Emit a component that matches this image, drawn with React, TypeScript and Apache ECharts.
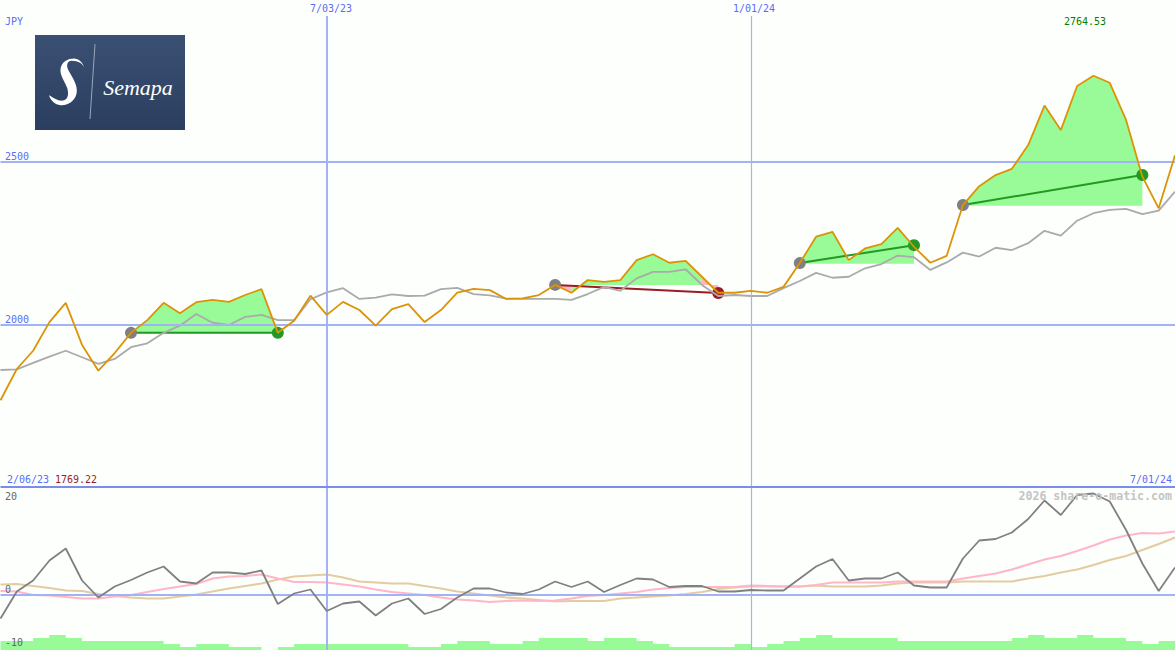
import React, { useEffect, useRef } from "react";
import * as echarts from "echarts";

const weeks = [
  "2/13/23","2/20/23","2/27/23","3/06/23","3/13/23","3/20/23","3/27/23","4/03/23","4/10/23","4/17/23","4/24/23",
  "5/01/23","5/08/23","5/15/23","5/22/23","5/29/23","6/05/23","6/12/23","6/19/23","6/26/23","7/03/23","7/10/23",
  "7/17/23","7/24/23","7/31/23","8/07/23","8/14/23","8/21/23","8/28/23","9/04/23","9/11/23","9/18/23","9/25/23",
  "10/02/23","10/09/23","10/16/23","10/23/23","10/30/23","11/06/23","11/13/23","11/20/23","11/27/23","12/04/23",
  "12/11/23","12/18/23","12/25/23","1/01/24","1/08/24","1/15/24","1/22/24","1/29/24","2/05/24","2/12/24","2/19/24",
  "2/26/24","3/04/24","3/11/24","3/18/24","3/25/24","4/01/24","4/08/24","4/15/24","4/22/24","4/29/24","5/06/24",
  "5/13/24","5/20/24","5/27/24","6/03/24","6/10/24","6/17/24","6/24/24","7/01/24",
];

const price = [
  1769.22,1865,1921,2009,2068,1939,1860,1914,1976,2015,2068,2036,2070,2077,2071,2092,2110,1976,2013,2090,2031,2071,2046,1998,2049,
  2064,2009,2046,2099,2111,2107,2080,2082,2092,2123,2099,2138,2132,2138,2199,2217,2191,2197,2148,2099,2099,2105,2099,2117,2190,
  2271,2286,2199,2235,2248,2298,2240,2191,2212,2368,2426,2460,2479,2552,2673,2598,2733,2764.53,2743,2629,2455,2358,2521,
];
const priceAverage = [
  1862,1864,1884,1903,1921,1901,1881,1896,1932,1944,1976,1998,2034,2007,2000,2025,2031,2015,2015,2079,2100,2113,2080,2084,2094,
  2089,2090,2110,2114,2095,2091,2081,2080,2080,2080,2077,2095,2117,2105,2143,2163,2163,2171,2123,2089,2092,2089,2089,2113,2135,
  2160,2145,2148,2174,2187,2213,2208,2169,2192,2222,2210,2237,2230,2251,2289,2274,2320,2343,2353,2356,2340,2351,2409,
];
const momentum = [
  -4.7,0.7,2.9,6.9,9.3,2.9,-0.5,1.7,3.0,4.5,5.7,2.7,2.3,4.5,4.5,4.2,4.9,-1.8,0.3,1.1,-3.2,-1.7,-1.3,-4.1,-1.7,
  -0.7,-3.8,-2.8,-0.5,1.3,1.3,0.5,0.2,1.1,2.7,1.6,2.7,0.6,2.0,3.3,3.1,1.6,1.8,1.8,0.7,0.7,1.0,0.9,0.9,3.3,
  5.7,7.2,2.9,3.3,3.3,4.5,1.9,1.5,1.5,7.3,10.9,11.2,12.5,15.2,18.9,16.0,20.0,20.3,18.7,13.0,6.3,0.8,5.5,
];
const momentumFast = [
  0.8,0.7,0,-0.1,-0.4,-0.7,-0.7,-0.3,0,0.6,1.2,1.7,2.2,3.3,3.7,3.8,4.1,3.3,2.6,2.6,2.5,2.1,1.7,1.1,0.6,
  0.3,0,-0.5,-0.9,-1.1,-1.4,-1.2,-1.1,-1.2,-1.1,-0.7,-0.2,0,0.3,0.6,1.1,1.4,1.6,1.6,1.6,1.6,1.9,1.8,1.7,1.7,
  2.0,2.5,2.5,2.5,2.5,2.7,2.7,2.7,2.7,3.3,3.8,4.3,5.1,6.1,7.1,7.8,8.8,9.9,11.1,11.9,12.4,12.3,12.7,
];
const momentumSlow = [
  2.1,2.2,1.8,1.4,0.9,0.8,0.2,-0.2,-0.5,-0.7,-0.7,-0.3,0.1,0.7,1.3,1.8,2.3,3.1,3.7,3.9,4.1,3.5,2.7,2.5,2.3,
  2.3,1.8,1.3,0.7,0.3,-0.1,-0.5,-0.7,-1.0,-1.3,-1.2,-1.2,-1.2,-0.7,-0.5,-0.3,-0.1,0.2,0.6,1.2,1.5,1.7,1.7,1.7,1.7,
  1.9,1.7,1.7,1.7,1.9,2.3,2.5,2.5,2.5,2.7,2.7,2.7,2.7,3.3,3.8,4.5,5.1,6.0,7.0,7.8,9.0,10.2,11.5,
];
const volumeLevel = [
  3,3,4,5,4,3,3,3,3,3,2,1,2,2,1,1,0,1,2,2,2,2,2,2,2,
  1,1,2,3,3,2,2,3,4,4,4,3,4,4,3,2,1,1,1,1,2,1,2,3,4,
  5,4,4,4,4,3,3,3,3,3,3,3,4,5,4,4,5,4,4,3,2,3,3,
];

const trades = [
  { from: 8, to: 17, entry: 1976, exit: 1976, won: true },
  { from: 34, to: 44, entry: 2123, exit: 2098, won: false },
  { from: 49, to: 56, entry: 2190, exit: 2245, won: true },
  { from: 59, to: 70, entry: 2368, exit: 2460, won: true },
];

const gridPrices = [2000, 2500];
const markedWeeks = ["7/03/23", "1/01/24"];
const BLUE = "#5b6cf8";
const GRIDLINE = "#a3b1f5";
const GREEN = "#98fb98";
const PINK = "#ffb6c1";
const ORANGE = "#dd9306";
const mono = "'DejaVu Sans Mono', monospace";

const LOGO_S =
  "M165 118C160 100 145 92 125 92C112 92 108 105 115 120C125 140 145 165 140 190C135 215 110 228 92 226C75 224 62 212 57 196C70 203 85 215 100 212C112 210 118 195 112 175C105 155 88 135 92 115C96 95 115 85 135 86C150 87 160 100 165 118Z";
echarts.graphic.registerShape("logoS", echarts.graphic.extendPath(LOGO_S, {}));

function label(text: string, x: number, y: number, fill: string, align = "left") {
  return {
    type: "text",
    x,
    y,
    z: 20,
    style: { text, fill, font: `10px ${mono}`, textAlign: align, textVerticalAlign: "middle" },
  };
}

function range(from: number, to: number) {
  return price.map((v, i) => (i >= from && i <= to ? v : null));
}

function area(from: number, to: number, origin: number, color: string) {
  return {
    type: "line",
    xAxisIndex: 0,
    yAxisIndex: 0,
    z: 2,
    data: range(from, to),
    showSymbol: false,
    lineStyle: { width: 0 },
    areaStyle: { color, opacity: 1, origin },
    silent: true,
  };
}

export default function App() {
  const ref = useRef<HTMLDivElement>(null);
  useEffect(() => {
    const chart = echarts.init(ref.current!, null, { renderer: "svg" });
    const plainLine = (x: number, y: number, data: number[], color: string, width: number, z: number) => ({
      type: "line",
      xAxisIndex: x,
      yAxisIndex: y,
      z,
      data,
      showSymbol: false,
      lineStyle: { color, width },
      itemStyle: { color },
      silent: true,
    });
    const verticals = markedWeeks.map((w, i) => ({
      xAxis: w,
      lineStyle: i === 0 ? { color: GRIDLINE, width: 2 } : { color: "#aab4dc", width: 1.2 },
    }));
    chart.setOption({
      animation: false,
      backgroundColor: "#fdfffd",
      grid: [
        { left: 0.5, top: 16, width: 1175, height: 471 },
        { left: 0.5, top: 487, width: 1175, height: 163 },
      ],
      xAxis: [
        { type: "category", gridIndex: 0, data: weeks, boundaryGap: false, show: false },
        { type: "category", gridIndex: 1, data: weeks, boundaryGap: false, show: false },
      ],
      yAxis: [
        { type: "value", gridIndex: 0, min: 1503.1, max: 2947.9, show: false },
        { type: "value", gridIndex: 1, min: -11, max: 21.6, show: false },
        { type: "value", gridIndex: 1, min: 0, max: 54.33, show: false },
      ],
      series: [
        {
          type: "line",
          xAxisIndex: 0,
          yAxisIndex: 0,
          z: 1,
          data: [],
          silent: true,
          markLine: {
            silent: true,
            symbol: "none",
            animation: false,
            label: { show: false },
            data: [
              ...verticals,
              ...gridPrices.map((p) => ({ yAxis: p, lineStyle: { color: GRIDLINE, width: 2, type: "solid" } })),
            ],
            lineStyle: { type: "solid" },
          },
        },
        {
          type: "line",
          xAxisIndex: 1,
          yAxisIndex: 1,
          z: 1,
          data: [],
          silent: true,
          markLine: {
            silent: true,
            symbol: "none",
            animation: false,
            label: { show: false },
            lineStyle: { type: "solid" },
            data: [
              ...verticals,
              { yAxis: 0, lineStyle: { color: GRIDLINE, width: 2, type: "solid" } },
              { yAxis: 21.6, lineStyle: { color: "#7b8cea", width: 2, type: "solid" } },
            ],
          },
        },
        area(8, 17, 1976, GREEN),
        area(34, 35, 2123, PINK),
        area(35, 43, 2123, GREEN),
        area(43, 44, 2123, PINK),
        area(49, 56, 2188, GREEN),
        area(59, 70, 2366, GREEN),
        ...trades.map((t) => {
          const end = t.won ? "#229922" : "#9c1c24";
          return {
            type: "line",
            xAxisIndex: 0,
            yAxisIndex: 0,
            z: 3,
            symbol: "circle",
            symbolSize: 12,
            showAllSymbol: true,
            silent: true,
            lineStyle: { color: end, width: 2 },
            data: [
              { value: [t.from, t.entry], itemStyle: { color: "#808080" } },
              { value: [t.to, t.exit], itemStyle: { color: end } },
            ],
          };
        }),
        plainLine(0, 0, priceAverage, "#aaaaaa", 1.8, 4),
        plainLine(0, 0, price, ORANGE, 1.8, 5),
        {
          type: "line",
          xAxisIndex: 1,
          yAxisIndex: 2,
          z: 2,
          step: "end",
          data: volumeLevel,
          showSymbol: false,
          silent: true,
          lineStyle: { width: 0 },
          areaStyle: { color: GREEN, opacity: 1 },
        },
        plainLine(1, 1, momentumSlow, "#e3cda0", 2.2, 3),
        plainLine(1, 1, momentumFast, "#ffb6c8", 2.2, 4),
        plainLine(1, 1, momentum, "#808080", 1.8, 5),
      ],
      graphic: [
        {
          type: "rect",
          z: 6,
          shape: { x: 35, y: 35, width: 150, height: 95 },
          style: {
            fill: {
              type: "linear",
              x: 0,
              y: 0,
              x2: 0,
              y2: 1,
              colorStops: [
                { offset: 0, color: "#3a5072" },
                { offset: 1, color: "#2b3e60" },
              ],
            },
          },
        },
        {
          type: "line",
          z: 7,
          shape: { x1: 95, y1: 44, x2: 90, y2: 119 },
          style: { stroke: "#9aa6ba", lineWidth: 1 },
        },
        {
          type: "logoS",
          z: 7,
          x: 30,
          y: 30,
          scaleX: 1 / 3,
          scaleY: 1 / 3,
          style: { fill: "#ffffff" },
        },
        {
          type: "text",
          z: 7,
          x: 138,
          y: 87,
          style: {
            text: "Semapa",
            fill: "#ffffff",
            font: "italic 22px 'Liberation Serif', serif",
            textAlign: "center",
            textVerticalAlign: "middle",
          },
        },
        label("JPY", 5, 21, BLUE),
        label("7/03/23", 310, 8, BLUE),
        label("1/01/24", 733, 8, BLUE),
        label("2764.53", 1064, 21, "#008000"),
        label("2500", 5, 156, BLUE),
        label("2000", 5, 319, BLUE),
        label("2/06/23", 7, 479, BLUE),
        label("1769.22", 55, 479, "#9c1c24"),
        label("7/01/24", 1130, 479, BLUE),
        label("20", 5, 496, "#666666"),
        label("0", 5, 589, "#666666"),
        label("-10", 5, 642, "#666666"),
        {
          type: "text",
          z: 21,
          x: 1172,
          y: 496,
          style: {
            text: "2026 share-o-matic.com",
            fill: "#c4c4c4",
            font: `bold 11.6px ${mono}`,
            textAlign: "right",
            textVerticalAlign: "middle",
          },
        },
      ],
    });
    return () => chart.dispose();
  }, []);
  return (
    <div
      ref={ref}
      style={{ position: "fixed", left: 0, top: 0, width: 1175, height: 650, overflow: "hidden" }}
    />
  );
}
